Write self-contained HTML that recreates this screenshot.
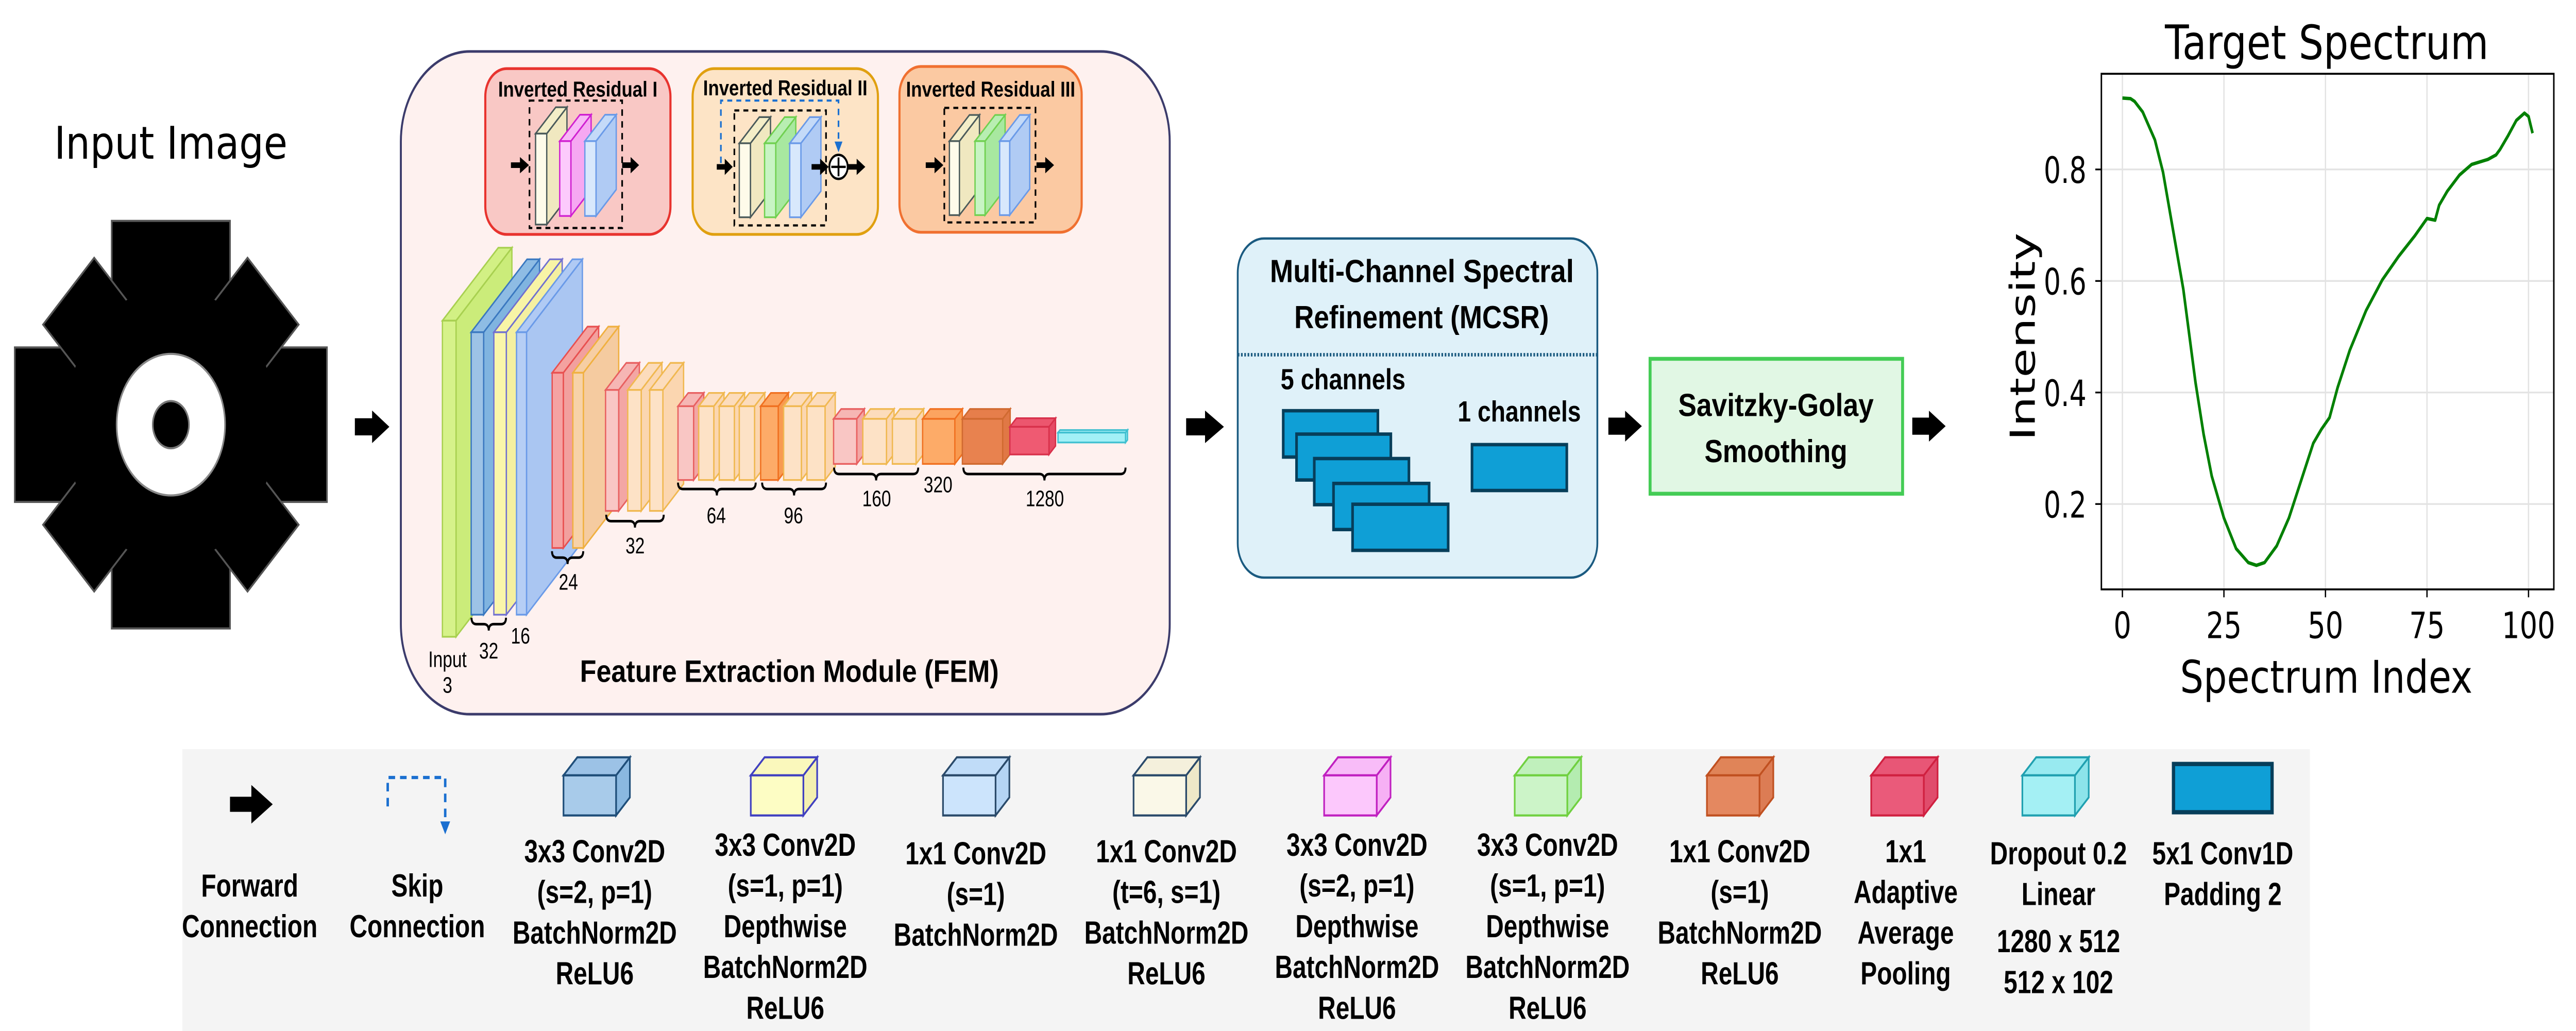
<!DOCTYPE html>
<html><head><meta charset="utf-8"><style>
html,body{margin:0;padding:0;background:#fff;width:100%;height:100%;overflow:hidden;}
svg{position:fixed;left:0;top:0;width:100vw;height:100vh;display:block;}
.b{font-family:"Liberation Sans",sans-serif;font-weight:bold;fill:#000;}
.r{font-family:"Liberation Sans",sans-serif;fill:#000;}
.d{font-family:"DejaVu Sans",sans-serif;fill:#000;}
</style></head><body>
<svg id="s" xmlns="http://www.w3.org/2000/svg" viewBox="0 0 1568 480.7" preserveAspectRatio="none">
<rect x="0" y="0" width="1568" height="480.7" fill="#fff"/>

<text class="d" x="104" y="74" font-size="21" text-anchor="middle" textLength="142" lengthAdjust="spacingAndGlyphs">Input Image</text>
<g transform="translate(104,198)" fill="#000" stroke="#555" stroke-width="1">
  <rect x="-36" y="-95" width="72" height="50" transform="rotate(0)"/>
  <rect x="-36" y="-95" width="72" height="50" transform="rotate(90)"/>
  <rect x="-36" y="-95" width="72" height="50" transform="rotate(180)"/>
  <rect x="-36" y="-95" width="72" height="50" transform="rotate(270)"/>
  <rect x="-22" y="-88" width="44" height="50" transform="rotate(45)"/>
  <rect x="-22" y="-88" width="44" height="50" transform="rotate(135)"/>
  <rect x="-22" y="-88" width="44" height="50" transform="rotate(225)"/>
  <rect x="-22" y="-88" width="44" height="50" transform="rotate(315)"/>
  <circle r="64" stroke="none"/>
  <circle r="33" fill="#fff" stroke="#888"/>
  <circle r="11" fill="#000" stroke="#777"/>
</g>

<rect x="244" y="24" width="468" height="309" rx="42" ry="42" fill="#fef1ef" stroke="#3b3b6b" stroke-width="1.2"/>
<rect x="295.4" y="32" width="112.7" height="77.3" rx="13" fill="#f9c8c5" stroke="#e8332e" stroke-width="1.3"/>
<rect x="421.6" y="32" width="112.8" height="77.3" rx="13" fill="#fde4c6" stroke="#e0a010" stroke-width="1.3"/>
<rect x="547.5" y="31" width="110.9" height="77.3" rx="13" fill="#fbc9a2" stroke="#f07030" stroke-width="1.3"/>
<text class="b" x="351.7" y="45" font-size="10" text-anchor="middle" textLength="97" lengthAdjust="spacingAndGlyphs">Inverted Residual I</text>
<text class="b" x="478" y="44.5" font-size="10" text-anchor="middle" textLength="100" lengthAdjust="spacingAndGlyphs">Inverted Residual II</text>
<text class="b" x="603" y="45" font-size="10" text-anchor="middle" textLength="103" lengthAdjust="spacingAndGlyphs">Inverted Residual III</text>
<rect x="322.3" y="46.9" width="56.4" height="59.4" fill="none" stroke="#000" stroke-width="1" stroke-dasharray="3,2.5"/>
<rect x="447" y="51.5" width="55.8" height="53.6" fill="none" stroke="#000" stroke-width="1" stroke-dasharray="3,2.5"/>
<rect x="574.8" y="50.3" width="55.5" height="53.4" fill="none" stroke="#000" stroke-width="1" stroke-dasharray="3,2.5"/>
<path d="M438.8 76 V46.9 H510.4 V68" fill="none" stroke="#1a6fd0" stroke-width="1" stroke-dasharray="3,2.5"/>
<path d="M508 66 L510.4 71 L512.8 66 Z" fill="#1a6fd0"/>
<g id="blocks"></g>
<circle cx="510.4" cy="77.8" r="5.6" fill="#fff" stroke="#000" stroke-width="1.1"/>
<path d="M506 77.8 H514.8 M510.4 73.4 V82.2" stroke="#000" stroke-width="1.1"/>
<g id="braces" fill="none" stroke="#000" stroke-width="1.2"></g>

<g class="r" font-size="10.5" text-anchor="middle">
<text x="272.4" y="311">Input</text>
<text x="272.4" y="323">3</text>
<text x="297.5" y="307">32</text>
<text x="316.8" y="300">16</text>
<text x="346" y="275">24</text>
<text x="386.6" y="258">32</text>
<text x="436" y="244">64</text>
<text x="483" y="244">96</text>
<text x="533.6" y="236">160</text>
<text x="571" y="229.5">320</text>
<text x="636" y="236">1280</text>
</g>
<text class="b" x="480.5" y="318" font-size="14.5" text-anchor="middle" textLength="255" lengthAdjust="spacingAndGlyphs">Feature Extraction Module (FEM)</text>

<rect x="753.4" y="111.2" width="218.9" height="158.1" rx="16" fill="#dff1f9" stroke="#1a5a80" stroke-width="1.1"/>
<line x1="753.4" y1="165.4" x2="972.3" y2="165.4" stroke="#1a5a80" stroke-width="1.6" stroke-dasharray="1,1"/>
<text class="b" x="865.5" y="131.5" font-size="15" text-anchor="middle" textLength="185" lengthAdjust="spacingAndGlyphs">Multi-Channel Spectral</text>
<text class="b" x="865.3" y="153" font-size="15" text-anchor="middle" textLength="155" lengthAdjust="spacingAndGlyphs">Refinement (MCSR)</text>
<text class="b" x="779.5" y="181.5" font-size="13.5" textLength="76" lengthAdjust="spacingAndGlyphs">5 channels</text>
<text class="b" x="887.3" y="196.5" font-size="13.5" textLength="75" lengthAdjust="spacingAndGlyphs">1 channels</text>
<g fill="#0f9fd6" stroke="#073e5a" stroke-width="1.6">
<rect x="781.1" y="191.5" width="57.6" height="21.6"/>
<rect x="789.2" y="202.4" width="57.4" height="21.4"/>
<rect x="800" y="213.8" width="57.6" height="21.5"/>
<rect x="811.7" y="225.4" width="58.2" height="21.5"/>
<rect x="823.3" y="235.1" width="58.2" height="21.5"/>
<rect x="896" y="207.3" width="57.7" height="21.4"/>
</g>

<rect x="1004.4" y="167.3" width="153.7" height="62.9" fill="#e1f7e4" stroke="#44cc55" stroke-width="1.8"/>
<text class="b" x="1081" y="194" font-size="15" text-anchor="middle" textLength="119" lengthAdjust="spacingAndGlyphs">Savitzky-Golay</text>
<text class="b" x="1081" y="215.5" font-size="15" text-anchor="middle" textLength="87" lengthAdjust="spacingAndGlyphs">Smoothing</text>

<g id="chart"></g>
<text class="d" x="1416.3" y="27.5" font-size="22" text-anchor="middle" textLength="197" lengthAdjust="spacingAndGlyphs">Target Spectrum</text>
<text class="d" x="1416" y="323" font-size="21" text-anchor="middle" textLength="178" lengthAdjust="spacingAndGlyphs">Spectrum Index</text>
<text class="d" transform="translate(1238.5,157) rotate(-90)" font-size="21" text-anchor="middle" textLength="97" lengthAdjust="spacingAndGlyphs">Intensity</text>
<g class="d" font-size="17" text-anchor="end">
<text x="1270" y="85.3" textLength="26" lengthAdjust="spacingAndGlyphs">0.8</text>
<text x="1270" y="137.3" textLength="26" lengthAdjust="spacingAndGlyphs">0.6</text>
<text x="1270" y="189.3" textLength="26" lengthAdjust="spacingAndGlyphs">0.4</text>
<text x="1270" y="241.3" textLength="26" lengthAdjust="spacingAndGlyphs">0.2</text>
</g>
<g class="d" font-size="17" text-anchor="middle">
<text x="1291.9" y="297.5">0</text>
<text x="1353.7" y="297.5">25</text>
<text x="1415.5" y="297.5">50</text>
<text x="1477.3" y="297.5">75</text>
<text x="1539.1" y="297.5">100</text>
</g>

<rect x="111" y="349.3" width="1295" height="132" fill="#f4f4f4"/>
<path d="M236 376 V362.5 H271 V384" fill="none" stroke="#1a6fd0" stroke-width="1.5" stroke-dasharray="4,3"/>
<path d="M268 383 L271 389 L274 383 Z" fill="#1a6fd0"/>
<rect x="1323" y="356.2" width="60" height="22.5" fill="#0f9fd6" stroke="#073e5a" stroke-width="2"/>
<g id="legblocks"></g>
<g class="b" font-size="15" text-anchor="middle">
<text x="152" y="418">Forward</text><text x="152" y="437">Connection</text>
<text x="254" y="418">Skip</text><text x="254" y="437">Connection</text>
<text x="362" y="402">3x3 Conv2D</text><text x="362" y="421">(s=2, p=1)</text><text x="362" y="440">BatchNorm2D</text><text x="362" y="459">ReLU6</text>
<text x="478" y="399">3x3 Conv2D</text><text x="478" y="418">(s=1, p=1)</text><text x="478" y="437">Depthwise</text><text x="478" y="456">BatchNorm2D</text><text x="478" y="475">ReLU6</text>
<text x="594" y="403">1x1 Conv2D</text><text x="594" y="422">(s=1)</text><text x="594" y="441">BatchNorm2D</text>
<text x="710" y="402">1x1 Conv2D</text><text x="710" y="421">(t=6, s=1)</text><text x="710" y="440">BatchNorm2D</text><text x="710" y="459">ReLU6</text>
<text x="826" y="399">3x3 Conv2D</text><text x="826" y="418">(s=2, p=1)</text><text x="826" y="437">Depthwise</text><text x="826" y="456">BatchNorm2D</text><text x="826" y="475">ReLU6</text>
<text x="942" y="399">3x3 Conv2D</text><text x="942" y="418">(s=1, p=1)</text><text x="942" y="437">Depthwise</text><text x="942" y="456">BatchNorm2D</text><text x="942" y="475">ReLU6</text>
<text x="1059" y="402">1x1 Conv2D</text><text x="1059" y="421">(s=1)</text><text x="1059" y="440">BatchNorm2D</text><text x="1059" y="459">ReLU6</text>
<text x="1160" y="402">1x1</text><text x="1160" y="421">Adaptive</text><text x="1160" y="440">Average</text><text x="1160" y="459">Pooling</text>
<text x="1253" y="403">Dropout 0.2</text><text x="1253" y="422">Linear</text><text x="1253" y="444">1280 x 512</text><text x="1253" y="463">512 x 102</text>
<text x="1353" y="403">5x1 Conv1D</text><text x="1353" y="422">Padding 2</text>
</g>
<g id="arrows"></g>
</svg>
<script>
var NS="http://www.w3.org/2000/svg";
function el(p,tag,a){var e=document.createElementNS(NS,tag);for(var k in a)e.setAttribute(k,a[k]);p.appendChild(e);return e;}
var B=document.getElementById("blocks");
function blk(g,x0,x1,y0,y1,d,f,s,t,st,sw){
  sw=sw||0.8;
  el(g,"polygon",{points:[x1,y0,x1+d,y0-d,x1+d,y1-d,x1,y1].join(" "),fill:s,stroke:st,"stroke-width":sw});
  el(g,"polygon",{points:[x0,y0,x0+d,y0-d,x1+d,y0-d,x1,y0].join(" "),fill:t,stroke:st,"stroke-width":sw});
  el(g,"rect",{x:x0,y:y0,width:x1-x0,height:y1-y0,fill:f,stroke:st,"stroke-width":sw});
}
var C={
 green:["#d6f28a","#cbec7a","#d2f084","#a8d050"],
 blue:["#9dc3e6","#80b4e0","#8ebce4","#3a78c0"],
 yellow:["#faf6aa","#f4f0a0","#f8f4a6","#7070d0"],
 lblue:["#b6cef5","#aac6f2","#b0caf4","#6a9ae8"],
 red:["#f5a3a3","#f2a09e","#f4a2a0","#e85050"],
 orl:["#f7d2a8","#f5cba0","#f6cea4","#f0b040"],
 pink:["#f9c6c4","#f3a6a4","#f6b6b4","#e86060"],
 peach:["#fde2c6","#fbd6b0","#fcdcbc","#f0b850"],
 orange:["#fdab68","#f89a50","#fca460","#f07020"],
 dor:["#e8824f","#e07845","#e67e4b","#d06a30"],
 rp:["#ef5a72","#e64a64","#ec566e","#d8304a"],
 cyan:["#a2f0f6","#8ee6ee","#9cecf4","#40c0d0"],
 cream:["#fefbea","#f0e8c0","#f4eec8","#4a5a5a"],
 mag:["#fccafc","#f6a8f2","#f8b8f6","#d020d0"],
 ibl:["#d8e8fc","#b0cbf4","#c4daf8","#6a9ae8"],
 igr:["#c8f4c4","#a8e8a0","#b8eeb2","#70d050"]
};
function b(c,x0,x1,y0,y1,d){var k=C[c];blk(B,x0,x1,y0,y1,d,k[0],k[1],k[2],k[3]);}
b("cream",326,332.8,62.3,104.7,12.3);b("mag",340.7,347.5,65.8,100.7,12.3);b("ibl",356,362.8,65.8,100.7,12.3);
b("cream",450,456.8,66.8,101.3,12.2);b("igr",465.4,472.2,66.8,101.3,12.2);b("ibl",480.7,487.5,66.8,101.3,12.2);
b("cream",577.9,584,65.8,100.3,12.2);b("igr",593.5,599.6,65.8,100.3,12.2);b("ibl",608.5,614.6,65.8,100.3,12.2);
b("green",269.3,277.6,149.5,296.9,34);
b("blue",286.8,294.4,154.9,286.6,34);
b("yellow",300.6,308.2,154.9,286.6,34);
b("lblue",314.4,320.5,154.9,286.6,34);
b("red",336.1,342.9,173.8,255.5,21.5);
b("orl",348.7,355.1,173.8,255.5,21.5);
b("pink",368.6,376.6,181.8,238.2,12.6);
b("peach",382.1,390.3,181.8,238.2,12.6);
b("peach",395.5,403.5,181.8,238.2,12.6);
b("pink",412.7,422.2,189.4,223.8,6.2);
b("peach",425.3,434.5,189.4,223.8,6.2);
b("peach",437.8,447,189.4,223.8,6.2);
b("peach",450,459.3,189.4,223.8,6.2);
b("orange",463,473.7,189.4,223.8,6.2);
b("peach",477,487.8,189.4,223.8,6.2);
b("peach",491.2,502.2,189.4,223.8,6.2);
b("pink",507.4,521.5,195.3,216.3,4.6);
b("peach",525.2,539.6,195.3,216.3,4.6);
b("peach",543.2,557.6,195.3,216.3,4.6);
b("orange",561.6,581.2,195.3,216.3,4.6);
b("dor",585.8,610.3,195.3,216.3,4.6);
b("rp",614.7,638.5,199,211.9,4);
b("cyan",644,685.1,201.7,206.3,1.2);
var A=document.getElementById("arrows");
function arr(g,x,x2,y,sh,hh){var L=x2-x,m=x+L*0.5;
 el(g,"polygon",{points:[x,y-sh,m,y-sh,m,y-hh,x2,y,m,y+hh,m,y+sh,x,y+sh].join(" "),fill:"#000"});}
arr(A,216,237,199,4,7.6);arr(A,722,745,199,4,7.6);arr(A,979,999.4,198.7,4,7.2);arr(A,1164,1184.3,198.7,4,7.2);
arr(A,140,166,375,3.5,9);
function sarr(x,x2,y){arr(A,x,x2,y,1.3,3.8);}
sarr(311,322,77);sarr(378.7,389,77);sarr(436.3,446,77.8);sarr(494,504.4,77.8);sarr(516.2,526.7,77.8);sarr(563.5,574.2,77);sarr(630.9,641.6,77);
var G=document.getElementById("braces");
function br(xa,xb,y){var m=(xa+xb)/2;
 el(G,"path",{d:"M"+xa+" "+(y-3)+" Q"+xa+" "+y+" "+(xa+3)+" "+y+" L"+(m-3)+" "+y+" Q"+m+" "+y+" "+m+" "+(y+3)+" Q"+m+" "+y+" "+(m+3)+" "+y+" L"+(xb-3)+" "+y+" Q"+xb+" "+y+" "+xb+" "+(y-3)});}
br(287,308,291);br(336,355,260);br(369,404,243);br(412.7,460,228);br(463.9,502.8,228);br(507.7,558.9,221);br(586.4,685.1,221);
var H=document.getElementById("chart");
function X(i){return 1291.9+i*2.472;}function Y(v){return 79+(0.8-v)*260;}
[0,25,50,75,100].forEach(function(i){el(H,"line",{x1:X(i),y1:34.4,x2:X(i),y2:274.8,stroke:"#e3e3e3","stroke-width":0.8});
 el(H,"line",{x1:X(i),y1:274.8,x2:X(i),y2:278.5,stroke:"#000","stroke-width":0.8});});
[0.2,0.4,0.6,0.8].forEach(function(v){el(H,"line",{x1:1279.1,y1:Y(v),x2:1554.5,y2:Y(v),stroke:"#e3e3e3","stroke-width":0.8});
 el(H,"line",{x1:1275.4,y1:Y(v),x2:1279.1,y2:Y(v),stroke:"#000","stroke-width":0.8});});
el(H,"rect",{x:1279.1,y:34.4,width:275.4,height:240.4,fill:"none",stroke:"#000","stroke-width":0.9});
var P=[[0,.928],[2,.927],[3,.922],[5,.903],[8,.853],[10,.795],[13,.669],[15,.585],[18,.418],[20,.325],[22,.25],[25,.175],[28,.12],[31,.095],[33,.09],[35,.095],[38,.125],[41,.175],[44,.242],[47,.309],[49,.334],[51,.355],[53,.409],[56,.476],[60,.547],[64,.602],[68,.644],[72,.681],[75,.712],[77,.709],[78,.736],[80,.761],[83,.79],[86,.809],[90,.818],[92,.826],[93,.836],[95,.861],[97,.888],[99,.901],[100,.895],[101,.865]];
el(H,"polyline",{points:P.map(function(p){return X(p[0])+","+Y(p[1]);}).join(" "),fill:"none",stroke:"#008000","stroke-width":1.6,"stroke-linejoin":"round"});
var LB=document.getElementById("legblocks");
var LC=[[343,"#a8cbea","#8ab8e0","#9cc2e6","#1f4e79"],[457,"#fdfdc4","#f4f0b0","#faf8bc","#4040c0"],[574,"#cce4fc","#b4d4f4","#c0dcf8","#2a4a6a"],
[690,"#faf8e8","#eee8c8","#f4f0dc","#2a4a6a"],[806,"#fcc8fc","#f6b0f4","#f8bcf8","#c020c0"],[922,"#ccf4c8","#b4ecb0","#c0f0bc","#70d040"],
[1039,"#e48860","#dc7c54","#e08458","#c05020"],[1139,"#ea5a7a","#e04c6c","#e85676","#d02040"],[1231,"#a4f0f4","#8ce4ea","#98eaf0","#20a0b0"]];
LC.forEach(function(c){blk(LB,c[0],c[0]+32,361.5,380.2,8.4,c[1],c[2],c[3],c[4],1);});
</script>
</body></html>
